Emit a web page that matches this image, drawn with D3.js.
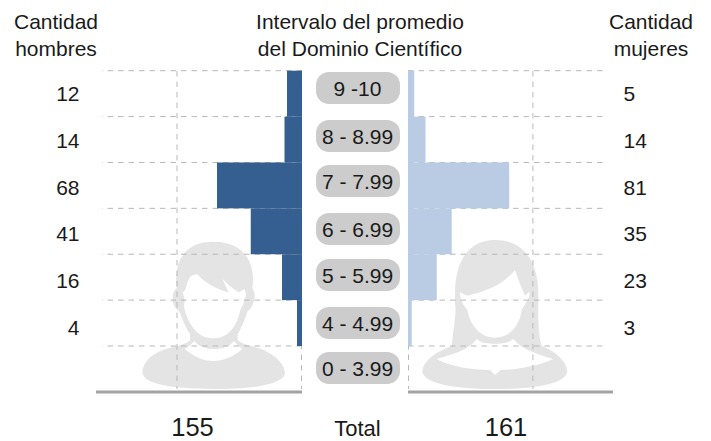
<!DOCTYPE html>
<html>
<head>
<meta charset="utf-8">
<script src="https://cdn.jsdelivr.net/npm/d3@7"></script>
<style>
html, body { margin: 0; padding: 0; background: #fff; }
text { font-family: "Liberation Sans", Arial, sans-serif; fill: #1a1a1a; }
</style>
</head>
<body>
<script>
var intervals = ["9 -10", "8 - 8.99", "7 - 7.99", "6 - 6.99", "5 - 5.99", "4 - 4.99", "0 - 3.99"];
var rows = ["9 -10", "8 - 8.99", "7 - 7.99", "6 - 6.99", "5 - 5.99", "4 - 4.99"];
var hombres = [12, 14, 68, 41, 16, 4];
var mujeres = [5, 14, 81, 35, 23, 3];
var totalHombres = 155;
var totalMujeres = 161;
var gridTicks = [0, 100];

var w = 711;
var h = 441;

var svg = d3.select("body")
	.append("svg")
	.attr("width", w)
	.attr("height", h)
	.style("display", "block");

var xLeft = d3.scaleLinear().domain([0, 160]).range([302, 102]);
var xRight = d3.scaleLinear().domain([0, 158.5]).range([408, 606]);
var yRow = d3.scaleBand().domain(rows).range([70.7, 346]);
var yLabel = d3.scalePoint().domain(rows).range([100.6, 335.4]);
var yPill = d3.scaleOrdinal().domain(intervals).range([88, 136, 181, 229, 275, 323, 368]);

// silhouettes, traced in crop coordinates
var man = "M22 412C25 375 60 345 130 332C145 328 160 322 165 315L165 298C150 275 140 245 132 228C118 218 112 205 113 190C113 175 118 165 125 160C118 105 130 20 235 20C340 20 362 100 352 160C360 170 362 190 355 205C350 218 345 225 338 228C330 255 318 280 308 298L308 315C315 322 330 328 345 332C405 345 450 380 450 415C445 450 350 462 235 462C120 462 25 450 22 412Z"
	+ "M155 150C160 130 170 118 187 118C210 145 250 165 282 172C275 160 268 145 263 132C280 150 295 162 312 172L328 162C332 170 335 180 330 190C328 200 322 215 315 228C305 275 280 310 235 310C190 310 165 275 150 228C146 215 147 205 150 195L143 172C150 170 152 160 155 150Z"
	+ "M178 318C190 335 215 342 237 342C260 342 285 335 297 318C305 328 315 336 322 342C295 365 265 378 235 378C205 378 175 365 150 342C160 336 170 328 178 318Z";
var woman = "M37 410C40 375 80 350 125 333C128 300 135 260 137 225C135 205 134 195 135 175C135 95 165 15 255 15C345 15 385 85 385 175C385 235 382 285 395 333C440 350 470 380 472 410C465 450 360 462 255 462C150 462 45 450 37 410Z"
	+ "M150 172L172 182C230 170 285 145 315 105C323 130 335 160 345 182L358 170C362 190 345 205 335 225C330 270 300 308 255 308C210 308 180 270 172 225C160 210 150 195 150 172Z"
	+ "M80 372C120 360 175 348 200 312C215 325 235 326 255 326C275 326 295 325 310 312C335 345 390 360 430 372C380 395 310 405 272 405L255 420L240 405C190 405 120 395 80 372Z";

svg.append("path")
	.attr("d", man)
	.attr("fill", "#e4e4e4")
	.attr("fill-rule", "evenodd")
	.attr("transform", "translate(135,235) scale(0.3333)");

svg.append("path")
	.attr("d", woman)
	.attr("fill", "#e4e4e4")
	.attr("fill-rule", "evenodd")
	.attr("transform", "translate(410,235) scale(0.3333)");

// grid
var rowLines = rows.map(function(d){return yRow(d);}).concat(yRow.range()[1]);

[xLeft, xRight].forEach(function(x){
	svg.selectAll(null)
		.data(rowLines)
		.enter()
		.append("line")
		.attr("x1", x.range()[0])
		.attr("x2", x.range()[1])
		.attr("y1", function(d){return d;})
		.attr("y2", function(d){return d;})
		.attr("stroke", "#b8b8b8")
		.attr("stroke-width", 1)
		.attr("stroke-dasharray", "5.5,5");

	svg.selectAll(null)
		.data(gridTicks)
		.enter()
		.append("line")
		.attr("x1", function(d){return x(d) + (d === 0 ? (x === xLeft ? -0.5 : 0.5) : 0);})
		.attr("x2", function(d){return x(d) + (d === 0 ? (x === xLeft ? -0.5 : 0.5) : 0);})
		.attr("y1", 71)
		.attr("y2", 389)
		.attr("stroke", "#b8b8b8")
		.attr("stroke-width", 1)
		.attr("stroke-dasharray", "5.5,5");
});

// bars
svg.selectAll(".bar-h")
	.data(hombres)
	.enter()
	.append("rect")
	.attr("class", "bar-h")
	.attr("x", function(d){return xLeft(d);})
	.attr("y", function(d, i){return yRow(rows[i]);})
	.attr("width", function(d){return xLeft(0) - xLeft(d);})
	.attr("height", yRow.bandwidth())
	.attr("fill", "#355f91");

svg.selectAll(".bar-m")
	.data(mujeres)
	.enter()
	.append("rect")
	.attr("class", "bar-m")
	.attr("x", xRight(0))
	.attr("y", function(d, i){return yRow(rows[i]);})
	.attr("width", function(d){return xRight(d) - xRight(0);})
	.attr("height", yRow.bandwidth())
	.attr("fill", "#b9cce4");

// baselines
svg.append("line")
	.attr("x1", 96).attr("x2", 302).attr("y1", 392).attr("y2", 392)
	.attr("stroke", "#a3a3a3").attr("stroke-width", 3);
svg.append("line")
	.attr("x1", 408).attr("x2", 613).attr("y1", 392).attr("y2", 392)
	.attr("stroke", "#a3a3a3").attr("stroke-width", 3);

// interval pills
svg.selectAll(".pill")
	.data(intervals)
	.enter()
	.append("rect")
	.attr("class", "pill")
	.attr("x", 316)
	.attr("y", function(d){return yPill(d) - 16;})
	.attr("width", 84)
	.attr("height", 32)
	.attr("rx", 13)
	.attr("fill", "#cccccc");

svg.selectAll(".pill-label")
	.data(intervals)
	.enter()
	.append("text")
	.attr("class", "pill-label")
	.attr("x", 357.5)
	.attr("y", function(d){return yPill(d) + 7.5;})
	.attr("text-anchor", "middle")
	.attr("font-size", 21)
	.text(function(d){return d;});

// counts
svg.selectAll(".num-h")
	.data(hombres)
	.enter()
	.append("text")
	.attr("class", "num-h")
	.attr("x", 79.5)
	.attr("y", function(d, i){return yLabel(rows[i]);})
	.attr("text-anchor", "end")
	.attr("font-size", 21)
	.text(function(d){return d;});

svg.selectAll(".num-m")
	.data(mujeres)
	.enter()
	.append("text")
	.attr("class", "num-m")
	.attr("x", 623.5)
	.attr("y", function(d, i){return yLabel(rows[i]);})
	.attr("font-size", 21)
	.text(function(d){return d;});

// headers
function header(x, lines){
	svg.selectAll(null)
		.data(lines)
		.enter()
		.append("text")
		.attr("x", x)
		.attr("y", function(d, i){return 29 + i * 27;})
		.attr("text-anchor", "middle")
		.attr("font-size", 21)
		.text(function(d){return d;});
}
header(56, ["Cantidad", "hombres"]);
header(360, ["Intervalo del promedio", "del Dominio Científico"]);
header(651, ["Cantidad", "mujeres"]);

// totals
svg.append("text").attr("x", 192.5).attr("y", 435.5).attr("text-anchor", "middle").attr("font-size", 25.5).text(totalHombres);
svg.append("text").attr("x", 506).attr("y", 435.5).attr("text-anchor", "middle").attr("font-size", 25.5).text(totalMujeres);
svg.append("text").attr("x", 357.5).attr("y", 436).attr("text-anchor", "middle").attr("font-size", 22).text("Total");
</script>
</body>
</html>
